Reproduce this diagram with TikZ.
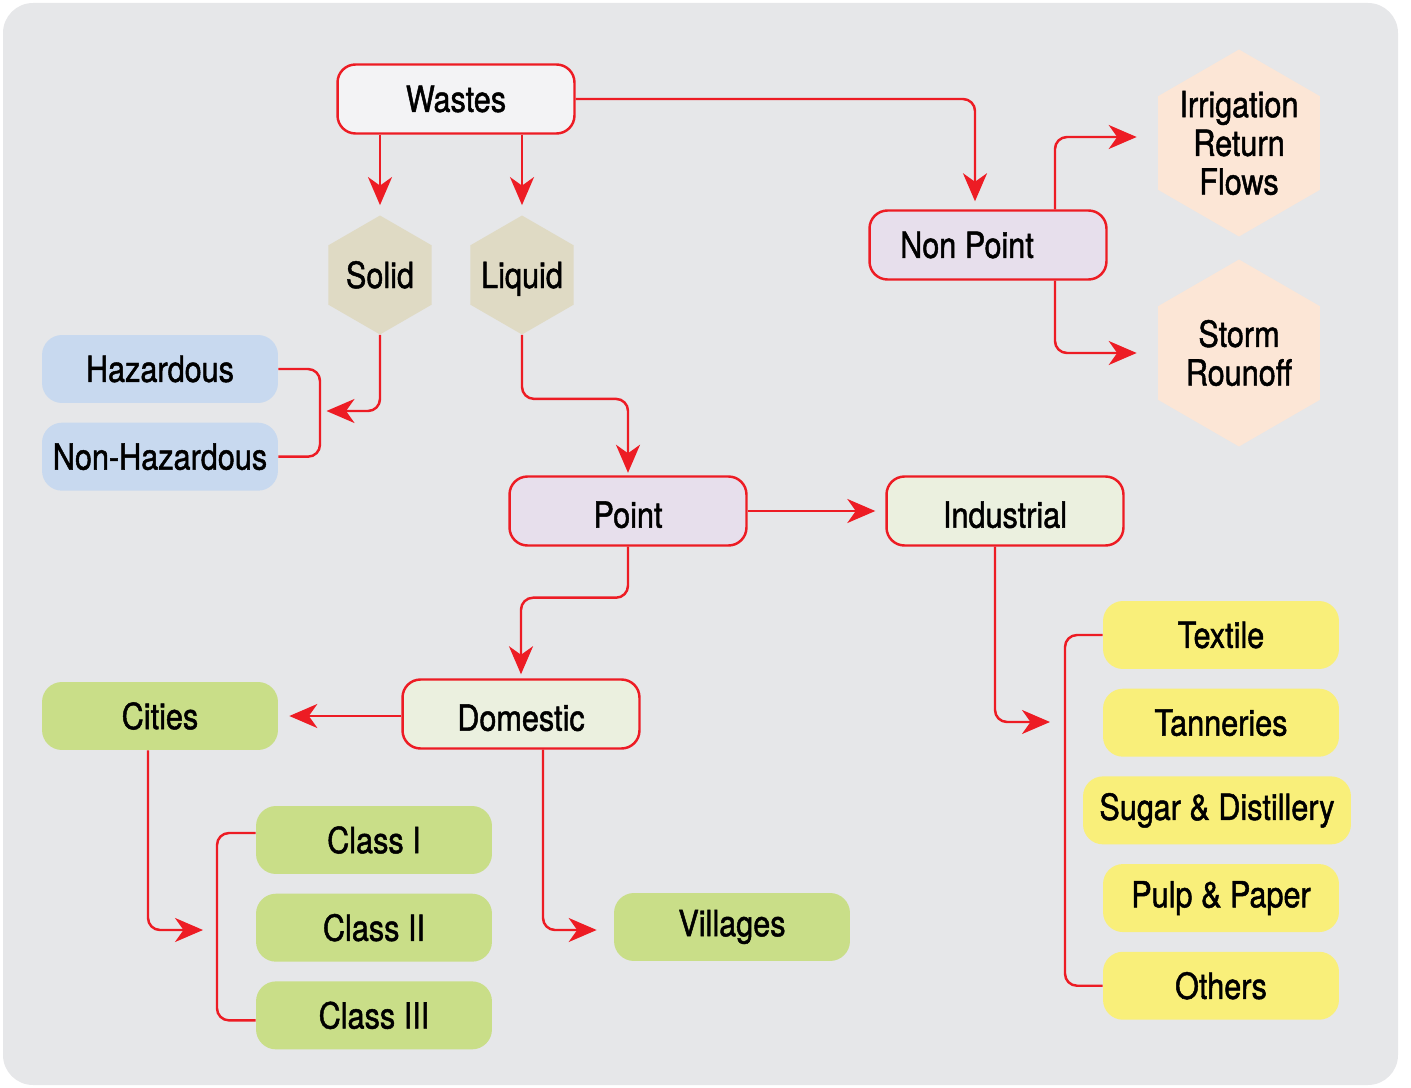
\documentclass[tikz,border=0pt]{standalone}
\usepackage{fontspec}
\setmainfont{TeX Gyre Heros}[FakeStretch=0.85, FakeBold=1.3]
\usetikzlibrary{arrows.meta}
\usetikzlibrary{positioning, shapes.geometric}

\definecolor{wred}{HTML}{ED1C24}
\definecolor{bggray}{HTML}{E6E7E9}
\definecolor{wastefill}{HTML}{F3F3F5}
\definecolor{lavender}{HTML}{E7DFEC}
\definecolor{palegreen}{HTML}{EBF0DF}
\definecolor{hazblue}{HTML}{C8D9EF}
\definecolor{hexbeige}{HTML}{DFDAC4}
\definecolor{peach}{HTML}{FCE6D6}
\definecolor{leafgreen}{HTML}{C9DE88}
\definecolor{lemon}{HTML}{F9EF7A}

\tikzset{
  redbox/.style={draw=wred, line width=1.4pt, rounded corners=0.36cm,
                 minimum width=4.74cm, minimum height=1.38cm},
  lowtext/.style={text height=19pt, text depth=0pt},
  tagbox/.style={rounded corners=0.4cm, minimum width=4.72cm, minimum height=1.36cm},
  hexa/.style={regular polygon, regular polygon sides=6, shape border rotate=30, inner sep=0pt},
  hexlabel/.style={text height=14.8pt, text depth=0pt},
  link/.style={wred, line width=1.4pt, rounded corners=0.24cm},
  arr/.style={link, -{Stealth[length=0.56cm,width=0.48cm,inset=0.17cm]}},
}

\begin{document}
\begin{tikzpicture}[x=0.02cm, y=-0.02cm, font=\fontsize{20.5}{22}\selectfont]
  \useasboundingbox (0,0) rectangle (1411,1088);
  \fill[bggray, rounded corners=0.6cm] (3,3) rectangle (1398,1085);

  % Top level
  \node[redbox, fill=wastefill] (wastes) at (456,99) {Wastes};
  \node[hexa, fill=hexbeige, minimum size=2.38cm, label={[hexlabel]center:Solid}]  (solid)  at (380,275) {};
  \node[hexa, fill=hexbeige, minimum size=2.38cm, label={[hexlabel]center:Liquid}] (liquid) at (522,275) {};
  \node[redbox, fill=lavender] (nonpoint) at (988,245) {Non Point\hspace*{0.84cm}};

  % Non point sources
  \node[hexa, fill=peach, minimum size=3.74cm,
        label={[align=center]center:Irrigation\\Return\\Flows}] (irrig) at (1239,143) {};
  \node[hexa, fill=peach, minimum size=3.74cm,
        label={[align=center]center:Storm\\Rounoff}] (storm) at (1239,353) {};

  % Solid wastes
  \node[tagbox, fill=hazblue] (haz) at (160,369) {Hazardous};
  \node[tagbox, fill=hazblue, below=0.38cm of haz] (nonhaz) {Non-Hazardous};
  \coordinate (hazjoin) at (320,411);

  % Point sources
  \node[redbox, lowtext, fill=lavender]  (point)      at (628,511) {Point};
  \node[redbox, lowtext, fill=palegreen] (industrial) at (1005,511) {Industrial};
  \node[redbox, lowtext, fill=palegreen] (domestic)   at (521,714) {Domestic};

  % Domestic
  \node[tagbox, fill=leafgreen] (cities)   at (160,716) {Cities};
  \node[tagbox, fill=leafgreen] (villages) at (732,927) {Villages};
  \node[tagbox, fill=leafgreen] (class1)   at (374,840) {Class I};
  \node[tagbox, fill=leafgreen, below=0.38cm of class1] (class2) {Class II};
  \node[tagbox, fill=leafgreen, below=0.38cm of class2] (class3) {Class III};
  \coordinate (classjoin) at (217,930);

  % Industrial
  \node[tagbox, fill=lemon] (textile) at (1221,635) {Textile};
  \node[tagbox, fill=lemon, below=0.38cm of textile]   (tanneries) {Tanneries};
  \node[tagbox, fill=lemon, minimum width=5.36cm, below=0.38cm of tanneries, xshift=-0.08cm] (sugar) {Sugar \& Distillery};
  \node[tagbox, fill=lemon, below=0.38cm of sugar, xshift=0.08cm] (pulp) {Pulp \& Paper};
  \node[tagbox, fill=lemon, below=0.38cm of pulp]      (others) {Others};
  \coordinate (indjoin) at (1065,722);

  % Connectors
  \draw[arr, shorten >=0.2cm] (wastes.south -| solid.north) -- (solid.north);
  \draw[arr, shorten >=0.2cm] (wastes.south -| liquid.north) -- (liquid.north);
  \draw[arr, shorten >=0.16cm] (wastes.east) -| ([xshift=-0.26cm]nonpoint.north);

  \draw[arr, shorten >=0.42cm] ([xshift=1.34cm]nonpoint.north) |- ([yshift=0.12cm]irrig.west);
  \draw[arr, shorten >=0.42cm] ([xshift=1.34cm]nonpoint.south) |- (storm.west);

  \draw[arr, shorten >=0.13cm] (solid.south) |- (hazjoin);
  \draw[link] (haz.east) -| (hazjoin) |- (nonhaz.east);

  \draw[arr, shorten >=0.05cm] (liquid.south) -- ++(0,64) -| (point.north);
  \draw[arr, shorten >=0.2cm] (point.east) -- (industrial.west);
  \draw[arr, shorten >=0.08cm] (point.south) -- ++(0,51) -| (domestic.north);

  \draw[arr, shorten >=0.22cm] (cities.east -| domestic.west) -- (cities.east);
  \draw[arr, shorten >=0.34cm] ([xshift=0.44cm]domestic.south) |- ([yshift=-0.06cm]villages.west);

  \draw[arr, shorten >=0.28cm] ([xshift=-0.24cm]cities.south) |- (classjoin);
  \draw[link] ([yshift=0.14cm]class1.west) -| (classjoin) |- ([yshift=-0.1cm]class3.west);

  \draw[arr, shorten >=0.3cm] ([xshift=-0.2cm]industrial.south) |- (indjoin);
  \draw[link] (textile.west) -| (indjoin) |- (others.west);

\end{tikzpicture}
\end{document}
